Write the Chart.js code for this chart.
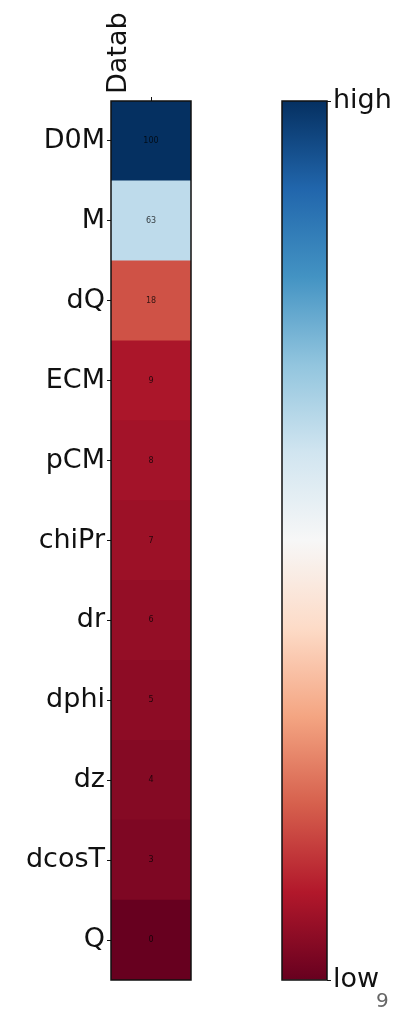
<!DOCTYPE html>
<html><head><meta charset="utf-8">
<script src="https://cdn.jsdelivr.net/npm/chart.js@4.4.0/dist/chart.umd.min.js"></script>
<style>
html,body{margin:0;padding:0;background:#fff;width:407px;height:1010px;overflow:hidden;position:relative}
canvas{position:absolute;top:0}
#page{position:absolute;left:376px;top:990px;font:20px/20px "DejaVu Sans";color:#666}
</style></head><body>
<canvas id="heat" width="200" height="1010" style="left:0"></canvas>
<canvas id="cbar" width="207" height="1010" style="left:200px"></canvas>
<div id="page">9</div>
<script>
// ---- data ----
const categories = ['D0M','M','dQ','ECM','pCM','chiPr','dr','dphi','dz','dcosT','Q'];
const columns = ['Datab'];
const values = [100, 63, 18, 9, 8, 7, 6, 5, 4, 3, 0];
const colorbarTickValues = [0, 100];
const colorbarTickLabels = ['low', 'high'];
const vmin = 0, vmax = 100;

// ---- palette (matplotlib RdBu) ----
const RdBu = [[103,0,31],[178,24,43],[214,96,77],[244,165,130],[253,219,199],[247,247,247],
              [209,229,240],[146,197,222],[67,147,195],[33,102,172],[5,48,97]];
function cmap(t){
  t = Math.max(0, Math.min(1, t));
  const p = t * 10, i = Math.min(9, Math.floor(p)), f = p - i;
  const a = RdBu[i], b = RdBu[i+1];
  return 'rgb(' + a.map((v,k)=>Math.round(v + (b[k]-v)*f)).join(',') + ')';
}
const FONT = "'DejaVu Sans', sans-serif";
const LABEL_SIZE = 27;

const framePlugin = {
  id: 'frame',
  afterDatasetsDraw(chart){
    const {ctx, chartArea:a} = chart;
    ctx.save();
    ctx.lineWidth = 1.5;
    ctx.strokeStyle = '#111';
    ctx.strokeRect(a.left, a.top, a.right - a.left, a.bottom - a.top);
    ctx.restore();
  }
};

const cellTextPlugin = {
  id: 'cellText',
  afterDatasetsDraw(chart){
    const {ctx} = chart;
    const meta = chart.getDatasetMeta(0);
    ctx.save();
    ctx.font = "8px " + FONT;
    ctx.fillStyle = 'rgba(0,0,0,0.75)';
    ctx.textAlign = 'center';
    ctx.textBaseline = 'middle';
    meta.data.forEach((el, i) => {
      const c = el.getCenterPoint();
      ctx.fillText(String(values[i]), c.x, c.y);
    });
    ctx.restore();
  }
};

// ---- heatmap ----
new Chart(document.getElementById('heat'), {
  type: 'bar',
  data: {
    labels: categories,
    datasets: [{
      data: values.map(() => [-0.5, 0.5]),
      backgroundColor: values.map(v => cmap((v - vmin) / (vmax - vmin))),
      borderWidth: 0,
      barPercentage: 1,
      categoryPercentage: 1
    }]
  },
  options: {
    indexAxis: 'y',
    responsive: false,
    animation: false,
    devicePixelRatio: 1,
    layout: { padding: { left: 0, top: 0, right: 9, bottom: 30 } },
    plugins: { legend: { display: false }, tooltip: { enabled: false } },
    scales: {
      x: {
        type: 'linear', position: 'top', min: -0.5, max: 0.5,
        afterBuildTicks: s => { s.ticks = columns.map((c, i) => ({ value: i })); },
        afterFit: s => { s.height = 101; },
        ticks: {
          callback: v => columns[v] ?? '',
          minRotation: 90, maxRotation: 90, padding: 3,
          font: { family: FONT, size: LABEL_SIZE }, color: '#111', autoSkip: false
        },
        grid: { drawOnChartArea: false, drawTicks: true, tickLength: 4, color: '#111' },
        border: { display: false }
      },
      y: {
        type: 'category', position: 'left', offset: true,
        afterFit: s => { s.width = 111; },
        ticks: { font: { family: FONT, size: LABEL_SIZE }, color: '#111', padding: 2, autoSkip: false },
        grid: { offset: false, drawOnChartArea: false, drawTicks: true, tickLength: 4, color: '#111' },
        border: { display: false }
      }
    }
  },
  plugins: [framePlugin, cellTextPlugin]
});

// ---- colorbar ----
new Chart(document.getElementById('cbar'), {
  type: 'bar',
  data: {
    labels: [''],
    datasets: [{
      data: [[vmin, vmax]],
      backgroundColor: (ctx) => {
        const a = ctx.chart.chartArea;
        if (!a) return 'rgb(247,247,247)';
        const g = ctx.chart.ctx.createLinearGradient(0, a.bottom, 0, a.top);
        RdBu.forEach((c, i) => g.addColorStop(i / (RdBu.length - 1), 'rgb(' + c.join(',') + ')'));
        return g;
      },
      borderWidth: 0,
      barPercentage: 1,
      categoryPercentage: 1
    }]
  },
  options: {
    responsive: false,
    animation: false,
    devicePixelRatio: 1,
    layout: { padding: { left: 82, top: 101, right: 0, bottom: 30 } },
    plugins: { legend: { display: false }, tooltip: { enabled: false } },
    scales: {
      x: { display: false },
      y: {
        position: 'right', min: vmin, max: vmax,
        afterBuildTicks: s => { s.ticks = colorbarTickValues.map(v => ({ value: v })); },
        afterFit: s => { s.width = 80; },
        ticks: {
          callback: v => colorbarTickLabels[colorbarTickValues.indexOf(v)] ?? '',
          font: { family: FONT, size: LABEL_SIZE }, color: '#111', padding: 2, autoSkip: false
        },
        grid: { drawOnChartArea: false, drawTicks: true, tickLength: 4, color: '#111' },
        border: { display: false }
      }
    }
  },
  plugins: [framePlugin]
});
</script>
</body></html>
